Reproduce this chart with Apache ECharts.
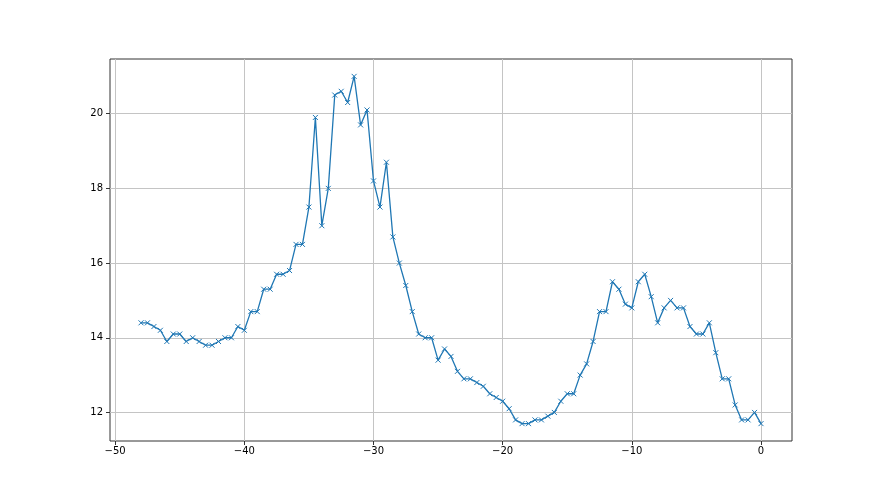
<!DOCTYPE html>
<html>
<head>
<meta charset="utf-8">
<script src="https://cdn.jsdelivr.net/npm/echarts@6/dist/echarts.min.js"></script>
<style>
  html, body { margin: 0; padding: 0; background: #fff; }
  #chart { width: 880px; height: 495px; }
</style>
</head>
<body>
<div id="chart"></div>
<script>
// x positions: -48 .. 0, every 0.5
const xValues = [
  -48, -47.5, -47, -46.5, -46, -45.5, -45, -44.5, -44, -43.5,
  -43, -42.5, -42, -41.5, -41, -40.5, -40, -39.5, -39, -38.5,
  -38, -37.5, -37, -36.5, -36, -35.5, -35, -34.5, -34, -33.5,
  -33, -32.5, -32, -31.5, -31, -30.5, -30, -29.5, -29, -28.5,
  -28, -27.5, -27, -26.5, -26, -25.5, -25, -24.5, -24, -23.5,
  -23, -22.5, -22, -21.5, -21, -20.5, -20, -19.5, -19, -18.5,
  -18, -17.5, -17, -16.5, -16, -15.5, -15, -14.5, -14, -13.5,
  -13, -12.5, -12, -11.5, -11, -10.5, -10, -9.5, -9, -8.5,
  -8, -7.5, -7, -6.5, -6, -5.5, -5, -4.5, -4, -3.5,
  -3, -2.5, -2, -1.5, -1, -0.5, 0
]
const yValues = [
  14.4, 14.4, 14.3, 14.2, 13.9, 14.1, 14.1, 13.9, 14.0, 13.9,
  13.8, 13.8, 13.9, 14.0, 14.0, 14.3, 14.2, 14.7, 14.7, 15.3,
  15.3, 15.7, 15.7, 15.8, 16.5, 16.5, 17.5, 19.9, 17.0, 18.0,
  20.5, 20.6, 20.3, 21.0, 19.7, 20.1, 18.2, 17.5, 18.7, 16.7,
  16.0, 15.4, 14.7, 14.1, 14.0, 14.0, 13.4, 13.7, 13.5, 13.1,
  12.9, 12.9, 12.8, 12.7, 12.5, 12.4, 12.3, 12.1, 11.8, 11.7,
  11.7, 11.8, 11.8, 11.9, 12.0, 12.3, 12.5, 12.5, 13.0, 13.3,
  13.9, 14.7, 14.7, 15.5, 15.3, 14.9, 14.8, 15.5, 15.7, 15.1,
  14.4, 14.8, 15.0, 14.8, 14.8, 14.3, 14.1, 14.1, 14.4, 13.6,
  12.9, 12.9, 12.2, 11.8, 11.8, 12.0, 11.7
]
const xTicks = [-50, -40, -30, -20, -10, 0]
const yTicks = [12, 14, 16, 18, 20]

const chart = echarts.init(document.getElementById('chart'))

const fmt = v => (v < 0 ? '\u2212' + Math.abs(v) : String(v))

const option = {
  animation: false,
  grid: {
    left: 110, right: 88, top: 59, bottom: 54,
    show: true, borderColor: '#333', borderWidth: 1
  },
  xAxis: {
    type: 'value',
    min: -50.4, max: 2.4,
    axisLine: { show: false, onZero: false },
    axisTick: {
      show: true, customValues: xTicks, length: 4,
      lineStyle: { color: '#333' }
    },
    axisLabel: {
      customValues: xTicks, formatter: fmt, margin: 5,
      color: '#000', fontSize: 10, fontFamily: 'DejaVu Sans'
    },
    splitLine: { show: true, lineStyle: { color: '#c4c4c4', width: 1 } }
  },
  yAxis: {
    type: 'value',
    min: 11.235, max: 21.465,
    axisLine: { show: false, onZero: false },
    axisTick: {
      show: true, customValues: yTicks, length: 4,
      lineStyle: { color: '#333' }
    },
    axisLabel: {
      customValues: yTicks, margin: 7,
      color: '#000', fontSize: 10, fontFamily: 'DejaVu Sans'
    },
    splitLine: { show: true, lineStyle: { color: '#c4c4c4', width: 1 } }
  },
  series: [
    {
      type: 'line',
      data: xValues.map((x, i) => [x, yValues[i]]),
      symbol: 'path://M0,0L10,10M10,0L0,10',
      symbolSize: 5,
      showSymbol: true,
      lineStyle: { color: '#1f77b4', width: 1.3 },
      itemStyle: { color: 'rgba(0,0,0,0)', borderColor: '#1f77b4', borderWidth: 1 }
    }
  ]
}

chart.setOption(option)
</script>
</body>
</html>
